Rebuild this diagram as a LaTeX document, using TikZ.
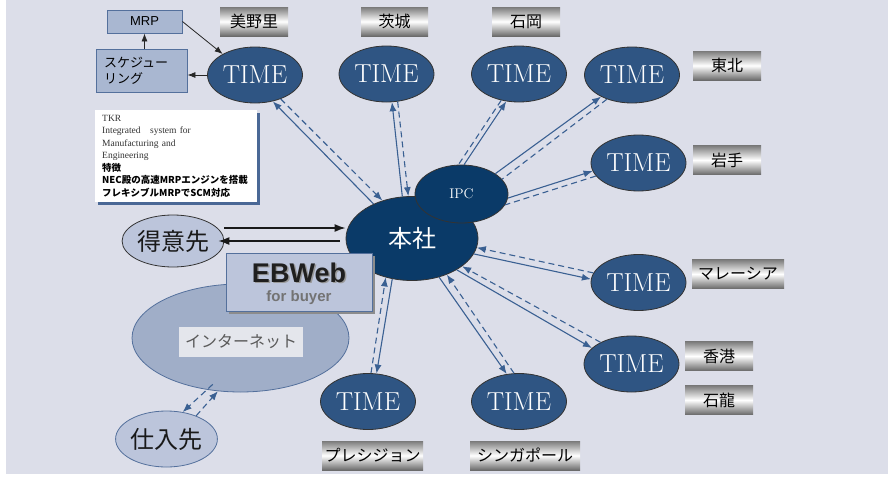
\documentclass[tikz,border=0pt]{standalone}
\usepackage{fontspec}
\newfontfamily\jpfont{Noto Sans CJK JP}
\newfontfamily\sansfont{Liberation Sans}
\newfontfamily\seriffont{Liberation Serif}
\usetikzlibrary{shapes.geometric,arrows.meta,calc,shadows}

\definecolor{bgc}{RGB}{220,222,233}
\definecolor{timefill}{RGB}{47,85,131}
\definecolor{hqfill}{RGB}{10,58,104}
\definecolor{link}{RGB}{58,96,146}
\definecolor{boxfill}{RGB}{169,183,209}
\definecolor{boxline}{RGB}{84,112,156}
\definecolor{palefill}{RGB}{188,197,219}
\definecolor{netfill}{RGB}{160,174,200}
\definecolor{netlabel}{RGB}{228,230,236}
\definecolor{infoshadow}{RGB}{74,104,150}

\tikzset{
  timenode/.style={ellipse, draw=black!80, line width=0.8pt, fill=timefill,
    text=white, minimum width=95pt, minimum height=56pt, inner sep=0pt,
    font=\fontsize{26}{26}\selectfont},
  hqnode/.style={ellipse, draw=black!80, line width=0.8pt, fill=hqfill,
    text=white, inner sep=0pt},
  place/.style={rectangle, minimum height=29pt, inner sep=0pt,
    top color=black!52, bottom color=black!58, middle color=white,
    text=black, font=\jpfont\fontsize{16}{16}\selectfont},
  palenode/.style={ellipse, fill=palefill, line width=0.8pt, inner sep=0pt,
    font=\jpfont\fontsize{24}{24}\selectfont, text=black!90},
  bluebox/.style={rectangle, fill=boxfill, draw=boxline, line width=0.8pt, inner sep=0pt},
  blk/.style={draw=black!85, line width=0.8pt, -{Latex[length=8pt,width=6pt]}},
  bigblk/.style={draw=black!90, line width=1.5pt, -{Latex[length=11pt,width=8pt]}},
  slink/.style={draw=link, line width=1.1pt, -{Latex[length=9pt,width=7pt]}},
  dlink/.style={draw=link, line width=1.1pt, dash pattern=on 6pt off 4pt,
    -{Latex[length=9pt,width=7pt]}},
  dplain/.style={draw=link, line width=1.1pt, dash pattern=on 6pt off 4pt},
}

\begin{document}
\begin{tikzpicture}[x=1pt,y=-1pt]
\useasboundingbox (0,0) rectangle (894,479);
\fill[white] (0,0) rectangle (894,479);
\fill[bgc] (6,0) rectangle (888,474);

% --- region labels ---
\node[place, minimum width=68pt] (lmino) at (254,21.5) {美野里};
\node[place, minimum width=67pt] (libar) at (394.5,21.5) {茨城};
\node[place, minimum width=68pt] (lishi) at (526,21.5) {石岡};
\node[place, minimum width=68pt] (ltoho) at (727,65.5) {東北};
\node[place, minimum width=68pt] (liwa) at (727,160) {岩手};
\node[place, minimum width=92pt] (lmal) at (738,274) {マレーシア};
\node[place, minimum width=68pt] (lhk) at (719,356) {香港};
\node[place, minimum width=68pt] (lsl) at (719,400) {石龍};
\node[place, minimum width=101pt] (lpre) at (372.5,455.5) {プレシジョン};
\node[place, minimum width=110pt] (lsin) at (525,455.5) {シンガポール};

% --- MRP and scheduling boxes ---
\node[bluebox, minimum width=75pt, minimum height=23pt,
  font=\sansfont\fontsize{13}{13}\selectfont] (mrp) at (144.5,21.5) {MRP};
\node[bluebox, minimum width=91pt, minimum height=43pt, align=left,
  font=\jpfont\fontsize{13}{16}\selectfont, text width=75pt] (sched) at (141.5,70.5)
  {スケジュー\\リング};

% --- info box ---
\node[anchor=north west, fill=white, minimum width=162pt, minimum height=92pt,
  text width=148pt, inner xsep=7pt, inner ysep=2.5pt, align=left,
  drop shadow={shadow xshift=3pt, shadow yshift=-3pt, fill=infoshadow, opacity=1},
  font=\fontsize{9.5}{12.5}\selectfont] (info) at (95,110)
  {{\seriffont\color{black!80}TKR\\Integrated\ \ \ system for\\Manufacturing and\\Engineering}\\
   {\jpfont\bfseries 特徴\\NEC殿の高速MRPエンジンを搭載\\フレキシブルMRPでSCM対応}};

% --- TIME sites ---
\node[timenode] (t1) at (255,75) {TIME};
\node[timenode] (t2) at (386.5,74) {TIME};
\node[timenode] (t3) at (519,74) {TIME};
\node[timenode] (t4) at (632,75) {TIME};
\node[timenode] (t5) at (638.5,163) {TIME};
\node[timenode] (t6) at (638.5,282.5) {TIME};
\node[timenode] (t7) at (631.5,364) {TIME};
\node[timenode] (t8) at (519,401.5) {TIME};
\node[timenode] (t9) at (368,401.5) {TIME};

% --- head office and IPC ---
\node[hqnode, minimum width=132pt, minimum height=84pt,
  font=\jpfont\fontsize{24}{24}\selectfont] (hq) at (412,238.5) {本社};
\node[hqnode, minimum width=93pt, minimum height=58pt,
  font=\fontsize{14}{14}\selectfont] (ipc) at (461.5,194) {IPC};

% --- customers, internet, suppliers ---
\node[palenode, draw=black!80, minimum width=94pt, minimum height=52pt] (tok) at (173,241) {得意先};
\node[ellipse, fill=netfill, draw=boxline, line width=0.8pt,
  minimum width=217pt, minimum height=108pt] (net) at (240.5,338) {};
\node[fill=netlabel, minimum width=124pt, minimum height=30pt, inner sep=0pt,
  text=black!65, font=\jpfont\fontsize{16}{16}\selectfont] (netl) at (241,342) {インターネット};
\node[palenode, draw=boxline, minimum width=95pt, minimum height=56pt] (sup) at (166.5,439) {仕入先};

% --- EBWeb box ---
\node[rectangle, fill=palefill, draw=boxline, line width=0.8pt,
  minimum width=146pt, minimum height=58pt, inner sep=0pt,
  drop shadow={shadow xshift=3pt, shadow yshift=-3pt, fill=black!45, opacity=1}]
  (eb) at (299,282) {};
\node[anchor=base, text=black!40, inner sep=0pt,
  font=\sansfont\bfseries\fontsize{27}{27}\selectfont] (ebs) at ($(eb.center)+(1.5,1.5)$) {EBWeb};
\node[anchor=base, text=black!88, inner sep=0pt,
  font=\sansfont\bfseries\fontsize{27}{27}\selectfont] (ebt) at (eb.center) {EBWeb};
\node[anchor=base, text=black!55, inner sep=0pt,
  font=\sansfont\bfseries\fontsize{15}{15}\selectfont] (ebf) at ($(eb.center)+(0,19)$) {for buyer};

% --- local MRP links ---
\draw[blk] (mrp.south |- sched.north) -- (mrp.south);
\draw[blk] (mrp.east) -- (t1.147);
\draw[blk] (t1.west) -- (t1.west -| sched.east);

% --- customer links ---
\draw[bigblk] ($(tok.east)+(0,-13)$) -- ($(hq.west)+(0,-10.5)$);
\draw[bigblk] ($(hq.west)+(-6,2.5)$) -- ($(tok.east)+(-6,0)$);

% --- head office <-> sites ---
\draw[slink] (hq.138.4) -- (t1.304.6);
\draw[dlink] (t1.317.1) -- (hq.128.3);
\draw[slink] (hq.103.5) -- (t2.281.1);
\draw[dlink] (t2.292.3) -- (hq.95.4);
\draw[slink] (hq.346.2) -- (t6.176);
\draw[dlink] (t6.168.7) -- (hq.352.7);
\draw[slink] (hq.325.9) -- (t7.158.9);
\draw[dlink] (t7.145.5) -- (hq.331.8);
\draw[slink] (hq.305.3) -- (t8.114.7);
\draw[dlink] (t8.100) -- (hq.314.6);
\draw[slink] (hq.244.9) -- (t9.73);
\draw[dlink] (t9.84.2) -- (hq.236);

% --- IPC <-> sites ---
\draw[slink] (ipc.85) -- (t3.245);
\draw[dplain] (t3.236.8) -- (ipc.96.9);
\draw[slink] (ipc.31.8) -- (t4.215.5);
\draw[dplain] (t4.224) -- (ipc.20.2);
\draw[slink] (ipc.355.2) -- (t5.190.5);
\draw[dplain] (t5.197.9) -- (ipc.346.1);

% --- internet <-> suppliers ---
\draw[dlink, shorten <=-8pt] (net.237) -- (sup.59);
\draw[dlink] (sup.38) -- (net.247);
\end{tikzpicture}
\end{document}
